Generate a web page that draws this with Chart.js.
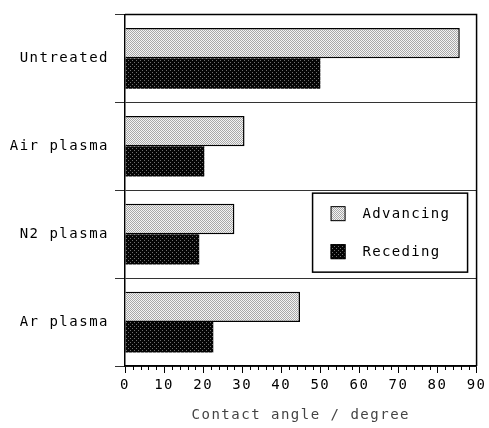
<!DOCTYPE html>
<html>
<head>
<meta charset="utf-8">
<script src="https://cdn.jsdelivr.net/npm/chart.js@4"></script>
<style>
    html, body { margin: 0; padding: 0; background: #fff; }
    #wrap { width: 489px; height: 428px; }
</style>
</head>
<body>
<div id="wrap"><canvas id="angleChart" width="489" height="428"></canvas></div>
<script>
// Datos
const categories = ['Untreated', 'Air plasma', 'N2 plasma', 'Ar plasma'];
const advancing = [85.7, 30.6, 28.0, 44.8];
const receding = [50.0, 20.3, 19.0, 22.6];
const xTicks = [0, 10, 20, 30, 40, 50, 60, 70, 80, 90];

const FONT = { family: '"DejaVu Sans Mono", monospace', size: 14 };

const lightFill = (() => {
    const c = document.createElement('canvas');
    c.width = 2; c.height = 2;
    const g = c.getContext('2d');
    g.fillStyle = '#f4f4f4';
    g.fillRect(0, 0, 2, 2);
    g.fillStyle = '#a8a8a8';
    g.fillRect(0, 0, 1, 1);
    g.fillRect(1, 1, 1, 1);
    return document.getElementById('angleChart').getContext('2d').createPattern(c, 'repeat');
})();
const darkFill = (() => {
    const c = document.createElement('canvas');
    c.width = 4; c.height = 4;
    const g = c.getContext('2d');
    g.fillStyle = '#050505';
    g.fillRect(0, 0, 4, 4);
    g.fillStyle = '#707070';
    g.fillRect(0, 0, 1, 1);
    g.fillRect(2, 2, 1, 1);
    return document.getElementById('angleChart').getContext('2d').createPattern(c, 'repeat');
})();

// Marco, ticks menores y leyenda
const extras = {
    id: 'extras',
    beforeDraw(chart) {
        chart.ctx.letterSpacing = '1.5px';
    },
    afterDraw(chart) {
        const { ctx, chartArea: a, scales } = chart;
        ctx.save();
        ctx.strokeStyle = '#000';
        ctx.lineWidth = 1.5;
        ctx.beginPath();
        ctx.moveTo(a.left, a.top);
        ctx.lineTo(a.right, a.top);
        ctx.lineTo(a.right, a.bottom);
        ctx.stroke();

        // ticks menores del eje x
        ctx.lineWidth = 1;
        ctx.beginPath();
        for (let v = 2; v < 90; v += 2) {
            if (v % 10 === 0) continue;
            const x = Math.round(scales.x.getPixelForValue(v)) + 0.5;
            ctx.moveTo(x, a.bottom);
            ctx.lineTo(x, a.bottom + 4);
        }
        ctx.stroke();

        // leyenda
        const bx = a.right - 164, by = scales.y.getPixelForValue(2) - 41;
        ctx.fillStyle = '#fff';
        ctx.fillRect(bx, by, 155, 79);
        ctx.lineWidth = 1.5;
        ctx.strokeRect(bx, by, 155, 79);
        const items = [
            { label: 'Advancing', fill: lightFill, y: by + 20 },
            { label: 'Receding', fill: darkFill, y: by + 58 }
        ];
        ctx.font = '14px "DejaVu Sans Mono", monospace';
        ctx.letterSpacing = '1.3px';
        ctx.textBaseline = 'middle';
        items.forEach(it => {
            ctx.fillStyle = it.fill;
            ctx.fillRect(bx + 18, it.y - 7, 15, 15);
            ctx.lineWidth = 1;
            ctx.strokeStyle = '#000';
            ctx.strokeRect(bx + 18.5, it.y - 6.5, 14, 14);
            ctx.fillStyle = '#000';
            ctx.fillText(it.label, bx + 50, it.y + 1);
        });
        ctx.restore();
    }
};

new Chart(document.getElementById('angleChart'), {
    type: 'bar',
    data: {
        labels: categories,
        datasets: [
            {
                label: 'Advancing',
                data: advancing,
                backgroundColor: lightFill,
                borderColor: '#000',
                borderWidth: 1.5,
                borderSkipped: 'start'
            },
            {
                label: 'Receding',
                data: receding,
                backgroundColor: darkFill,
                borderColor: '#000',
                borderWidth: 0
            }
        ]
    },
    options: {
        indexAxis: 'y',
        responsive: false,
        animation: false,
        events: [],
        layout: { padding: { top: 14, right: 11, left: 0, bottom: 0 } },
        datasets: { bar: { categoryPercentage: 0.69, barPercentage: 1.0 } },
        plugins: { legend: { display: false }, tooltip: { enabled: false } },
        scales: {
            x: {
                min: 0,
                max: 90,
                afterBuildTicks: scale => { scale.ticks = xTicks.map(v => ({ value: v })); },
                afterFit: scale => { scale.height = 62; },
                grid: { drawOnChartArea: false, drawTicks: true, tickLength: 7, color: '#000' },
                border: { display: true, color: '#000', width: 1.5 },
                ticks: { color: '#000', font: FONT, padding: 4, maxRotation: 0, autoSkip: false },
                title: { display: true, text: 'Contact angle / degree', color: '#444', font: FONT, padding: { top: 2 } }
            },
            y: {
                afterFit: scale => { scale.width = 125; },
                grid: { offset: true, color: '#333', lineWidth: 1, tickLength: 10 },
                border: { display: true, color: '#000', width: 1.5 },
                ticks: { color: '#000', font: FONT, padding: 6 }
            }
        }
    },
    plugins: [extras]
});
</script>
</body>
</html>
